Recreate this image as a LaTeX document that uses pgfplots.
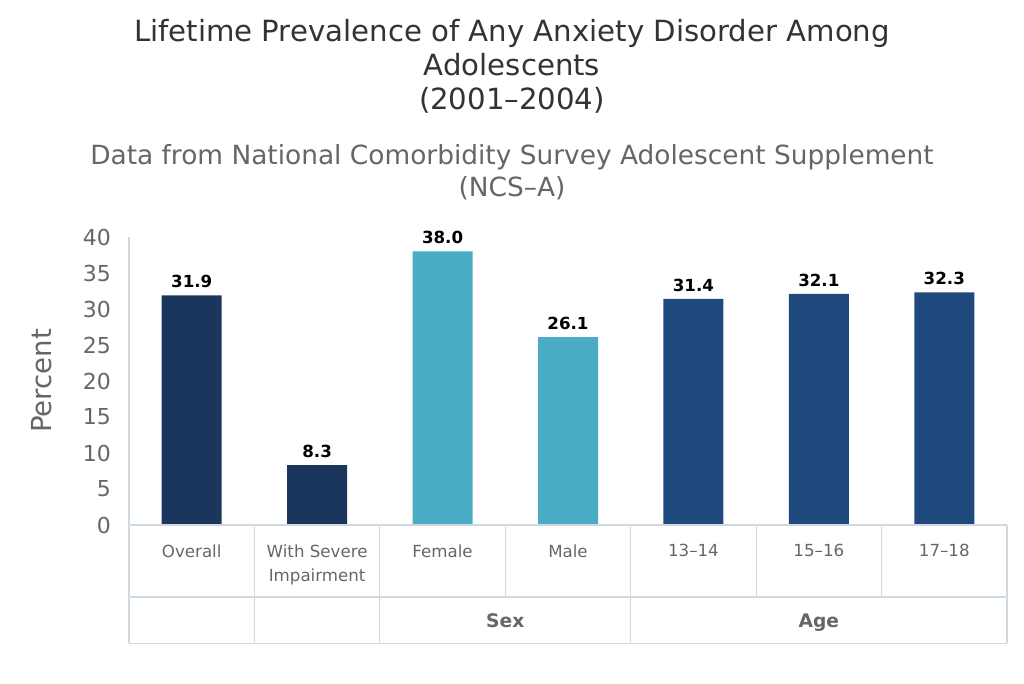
\documentclass[border=0pt]{standalone}
\usepackage{pgfplots}
\pgfplotsset{compat=1.18}
\usepackage{fontspec}
\setmainfont{DejaVu Sans}
\definecolor{darknavy}{HTML}{1B365D}
\definecolor{teal}{HTML}{4BACC6}
\definecolor{agenavy}{HTML}{1F497D}
\definecolor{titlegray}{HTML}{333333}
\definecolor{subgray}{HTML}{666666}
\definecolor{linecol}{HTML}{D0D8E2}
\begin{document}
\begin{tikzpicture}[x=0.75pt,y=0.75pt]
\path[use as bounding box] (0,0) rectangle (1024,683);
\node[anchor=base,text=titlegray,font=\fontsize{21.9}{25}\selectfont] at (512,641) {Lifetime Prevalence of Any Anxiety Disorder Among};
\node[anchor=base,text=titlegray,font=\fontsize{21.9}{25}\selectfont] at (512,607) {Adolescents};
\node[anchor=base,text=titlegray,font=\fontsize{21.9}{25}\selectfont] at (512,573) {(2001–2004)};
\node[anchor=base,text=subgray,font=\fontsize{19.8}{23}\selectfont] at (512,518) {Data from National Comorbidity Survey Adolescent Supplement};
\node[anchor=base,text=subgray,font=\fontsize{19.8}{23}\selectfont] at (512,486) {(NCS–A)};
\begin{axis}[
  at={(96.75pt,118.5pt)}, anchor=south west,
  scale only axis, width=658.5pt, height=216pt,
  xmin=-0.5, xmax=6.5, ymin=0, ymax=40,
  ybar, bar width=45pt, bar shift=0pt,
  axis x line*=bottom, axis y line*=left,
  x axis line style={draw=none},
  y axis line style={draw=linecol, line width=0.8pt},
  major tick length=0pt,
  ytick={0,5,...,40},
  yticklabel style={text=subgray, font=\fontsize{16.5}{18}\selectfont, xshift=-10pt},
  /pgf/number format/assume math mode=true,
  xtick={0,1,2,3,4,5,6},
  xticklabels={Overall,{With Severe\\Impairment},Female,Male,13–14,15–16,17–18},
  xticklabel style={text=subgray, font=\fontsize{12.5}{18}\selectfont, align=center, anchor=north, yshift=-11pt},
  ylabel={Percent},
  ylabel style={text=subgray, font=\fontsize{20.7}{22}\selectfont, at={(axis description cs:-0.099,0.5)}, anchor=center},
  nodes near coords,
  nodes near coords style={text=black, yshift=2pt, font=\fontsize{12.5}{15}\selectfont\bfseries, /pgf/number format/.cd, fixed, fixed zerofill, precision=1, assume math mode=true},
  clip=false,
]
\addplot[fill=darknavy, draw=none] coordinates {(0,31.9) (1,8.3)};
\addplot[fill=teal, draw=none] coordinates {(2,38.0) (3,26.1)};
\addplot[fill=agenavy, draw=none] coordinates {(4,31.4) (5,32.1) (6,32.3)};
\draw[linecol, line width=0.8pt] (axis cs:-0.5,0) -- (axis cs:6.5,0);
\draw[linecol, line width=0.8pt] (axis cs:-0.5,-10) -- (axis cs:6.5,-10);
\draw[linecol, line width=0.8pt] (axis cs:-0.5,-16.4) -- (axis cs:6.5,-16.4);
\draw[linecol, line width=0.8pt] (axis cs:-0.5,0) -- (axis cs:-0.5,-16.4);
\draw[linecol, line width=0.8pt] (axis cs:0.5,0) -- (axis cs:0.5,-16.4);
\draw[linecol, line width=0.8pt] (axis cs:1.5,0) -- (axis cs:1.5,-16.4);
\draw[linecol, line width=0.8pt] (axis cs:2.5,0) -- (axis cs:2.5,-10);
\draw[linecol, line width=0.8pt] (axis cs:3.5,0) -- (axis cs:3.5,-16.4);
\draw[linecol, line width=0.8pt] (axis cs:4.5,0) -- (axis cs:4.5,-10);
\draw[linecol, line width=0.8pt] (axis cs:5.5,0) -- (axis cs:5.5,-10);
\draw[linecol, line width=0.8pt] (axis cs:6.5,0) -- (axis cs:6.5,-16.4);
\node[anchor=base, text=subgray, font=\fontsize{14}{16}\selectfont\bfseries] at (axis cs:2.5,-14.2) {Sex};
\node[anchor=base, text=subgray, font=\fontsize{14}{16}\selectfont\bfseries] at (axis cs:5,-14.2) {Age};
\end{axis}
\end{tikzpicture}
\end{document}
